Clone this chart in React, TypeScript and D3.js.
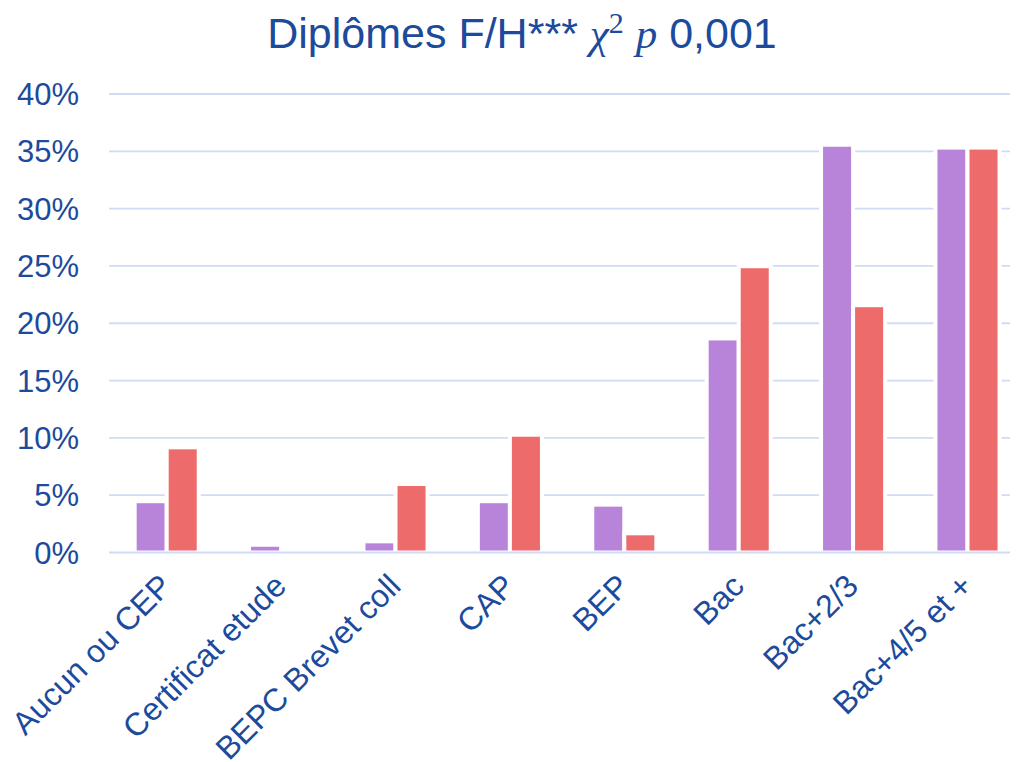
import React from 'react';
import * as d3 from 'd3';

const categories = [
  'Aucun ou CEP',
  'Certificat etude',
  'BEPC Brevet coll',
  'CAP',
  'BEP',
  'Bac',
  'Bac+2/3',
  'Bac+4/5 et +',
];
const seriesNames = ['F', 'H'];
const valuesF = [4.3, 0.5, 0.8, 4.3, 4.0, 18.5, 35.4, 35.15];
const valuesH = [9.0, 0, 5.8, 10.1, 1.5, 24.8, 21.4, 35.15];
const yTicks = [0, 5, 10, 15, 20, 25, 30, 35, 40];
const seriesColors = ['#B884DA', '#EE6B6B'];

const TEXT = '#1C4A9C';
const GRID = '#D0DCF5';
const FONT = '"Liberation Sans", Arial, sans-serif';

export default function App() {
  const W = 1017;
  const H = 762;
  const x = d3
    .scaleBand<string>()
    .domain(categories)
    .range([109.5, 1024.7])
    .paddingInner(0.44)
    .paddingOuter(0.22);
  const xs = d3.scaleBand<string>().domain(seriesNames).range([0, x.bandwidth()]);
  const y = d3.scaleLinear().domain([0, 40]).range([552.5, 94]);
  const gridX0 = 109;
  const gridX1 = 1010;
  const series = [valuesF, valuesH];

  return (
    <svg
      width={W}
      height={H}
      style={{ position: 'absolute', left: 0, top: 0, background: '#fff' }}
      fontFamily={FONT}
    >
      <rect x={0} y={0} width={W} height={H} fill="#fff" />
      {/* title */}
      <text x={522} y={48} textAnchor="middle" fontSize={43} fill={TEXT} style={{ whiteSpace: 'pre' }}>
        <tspan>{'Diplômes F/H*** '}</tspan>
        <tspan fontFamily='"Liberation Serif", "DejaVu Serif", serif' fontStyle="italic">χ</tspan>
        <tspan fontFamily='"Liberation Serif", "DejaVu Serif", serif' fontSize={30} dy={-15}>2</tspan>
        <tspan dy={15}>{' '}</tspan>
        <tspan fontFamily='"Liberation Serif", "DejaVu Serif", serif' fontStyle="italic">p</tspan>
        <tspan>{' 0,001'}</tspan>
      </text>

      {/* gridlines (except 0) */}
      {yTicks
        .filter((t) => t !== 0)
        .map((t) => (
          <line key={t} x1={gridX0} x2={gridX1} y1={y(t)} y2={y(t)} stroke={GRID} strokeWidth={1.8} />
        ))}

      {/* bars */}
      {categories.map((c, i) =>
        seriesNames.map((s, k) => {
          const v = series[k][i];
          if (!v) return null;
          const bx = (x(c) as number) + (xs(s) as number);
          return (
            <rect
              key={c + s}
              x={bx}
              y={y(v) - 2}
              width={xs.bandwidth()}
              height={y(0) - y(v) + 2}
              fill={seriesColors[k]}
              stroke="#fff"
              strokeWidth={4}
            />
          );
        })
      )}

      {/* zero line */}
      <line x1={gridX0} x2={gridX1} y1={y(0)} y2={y(0)} stroke={GRID} strokeWidth={1.8} />

      {/* y labels */}
      {yTicks.map((t) => (
        <text
          key={t}
          x={79}
          y={y(t)}
          dy="0.36em"
          textAnchor="end"
          fontSize={31}
          fill={TEXT}
        >
          {t + '%'}
        </text>
      ))}

      {/* x labels */}
      {categories.map((c) => {
        const cx = (x(c) as number) + x.bandwidth() / 2;
        return (
          <text
            key={c}
            transform={`translate(${cx + 7},${588}) rotate(-45)`}
            textAnchor="end"
            fontSize={32}
            fill={TEXT}
          >
            {c}
          </text>
        );
      })}
    </svg>
  );
}
